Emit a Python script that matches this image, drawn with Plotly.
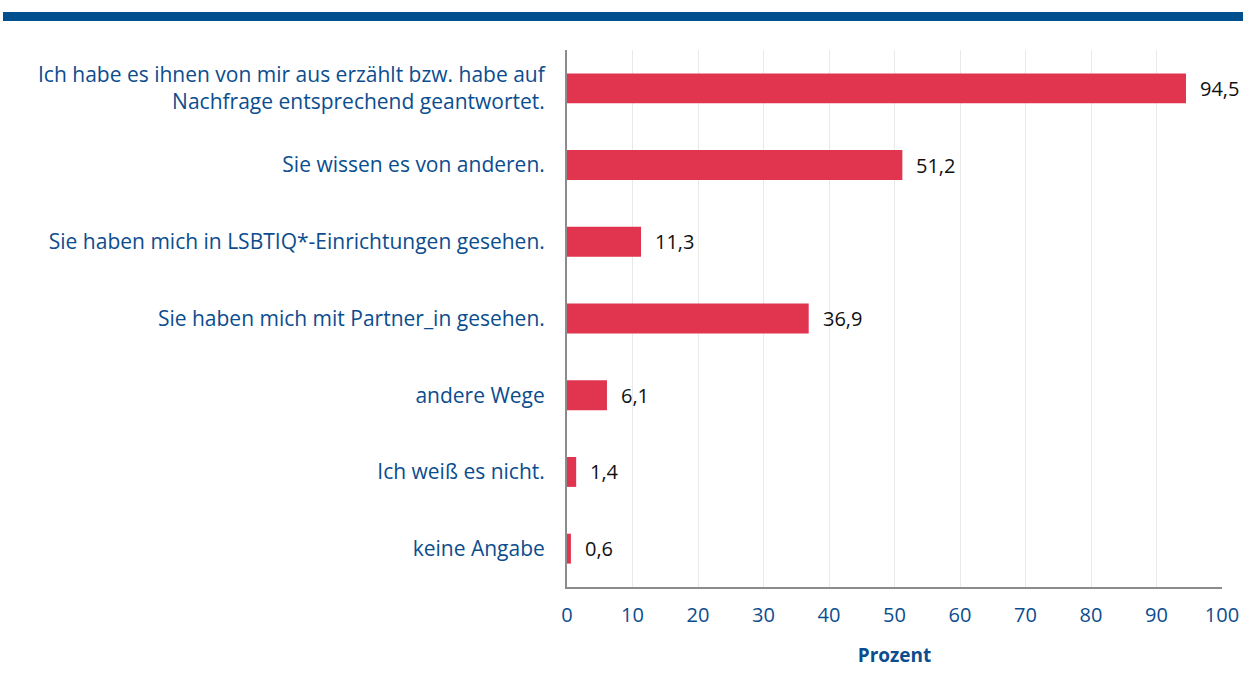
import plotly.graph_objects as go

categories = [
    "Ich habe es ihnen von mir aus erzählt bzw. habe auf<br>Nachfrage entsprechend geantwortet.",
    "Sie wissen es von anderen.",
    "Sie haben mich in LSBTIQ*-Einrichtungen gesehen.",
    "Sie haben mich mit Partner_in gesehen.",
    "andere Wege",
    "Ich weiß es nicht.",
    "keine Angabe",
]
values = [94.5, 51.2, 11.3, 36.9, 6.1, 1.4, 0.6]
value_labels = ["94,5", "51,2", "11,3", "36,9", "6,1", "1,4", "0,6"]
tick_vals = [0, 10, 20, 30, 40, 50, 60, 70, 80, 90, 100]

BLUE = "#0B4D8E"
RED = "#E1354F"
FONT = "Open Sans"

fig = go.Figure()
fig.add_trace(go.Bar(
    x=values, y=categories, orientation="h",
    marker=dict(color=RED, line=dict(width=0)),
    width=0.39, hoverinfo="skip",
))

for v, c, t in zip(values, categories, value_labels):
    fig.add_annotation(x=v, y=c, text=t, showarrow=False, xanchor="left",
                       xshift=12, font=dict(family=FONT, size=20, color="#111111"))

L, R, T, B = 567, 21, 50, 113
fig.update_layout(
    width=1243, height=700, autosize=False,
    margin=dict(l=L, r=R, t=T, b=B, pad=0, autoexpand=False),
    plot_bgcolor="white", paper_bgcolor="white",
    showlegend=False,
    font=dict(family=FONT, color=BLUE),
    xaxis=dict(
        range=[0, 100], tickvals=tick_vals, ticktext=[str(t) for t in tick_vals],
        showgrid=True, gridcolor="#E9E9E9", gridwidth=1, automargin=False,
        zeroline=False, showline=True, linecolor="#8C8C8C", linewidth=2,
        tickfont=dict(family=FONT, size=20, color=BLUE),
        ticks="", ticklabelstandoff=9,
        title=dict(text="<b>Prozent</b>", font=dict(family=FONT, size=19, color=BLUE), standoff=22),
        fixedrange=True,
    ),
    yaxis=dict(
        categoryorder="array", categoryarray=categories, autorange="reversed",
        showgrid=False, zeroline=False, showline=True, linecolor="#8C8C8C", linewidth=2,
        automargin=False,
        tickfont=dict(family=FONT, size=21, color=BLUE),
        ticks="", ticklabelstandoff=16,
        fixedrange=True,
    ),
    shapes=[dict(type="rect", xref="paper", yref="paper",
                 x0=(3 - L) / 655, x1=(1243 - L) / 655,
                 y0=(587 - 21) / 537, y1=(587 - 12) / 537,
                 fillcolor="#00508F", line=dict(width=0), layer="above")],
)

fig.write_html("out.html", config={"displayModeBar": False},
               post_script="document.body.style.margin='0';document.body.style.overflow='hidden';")
